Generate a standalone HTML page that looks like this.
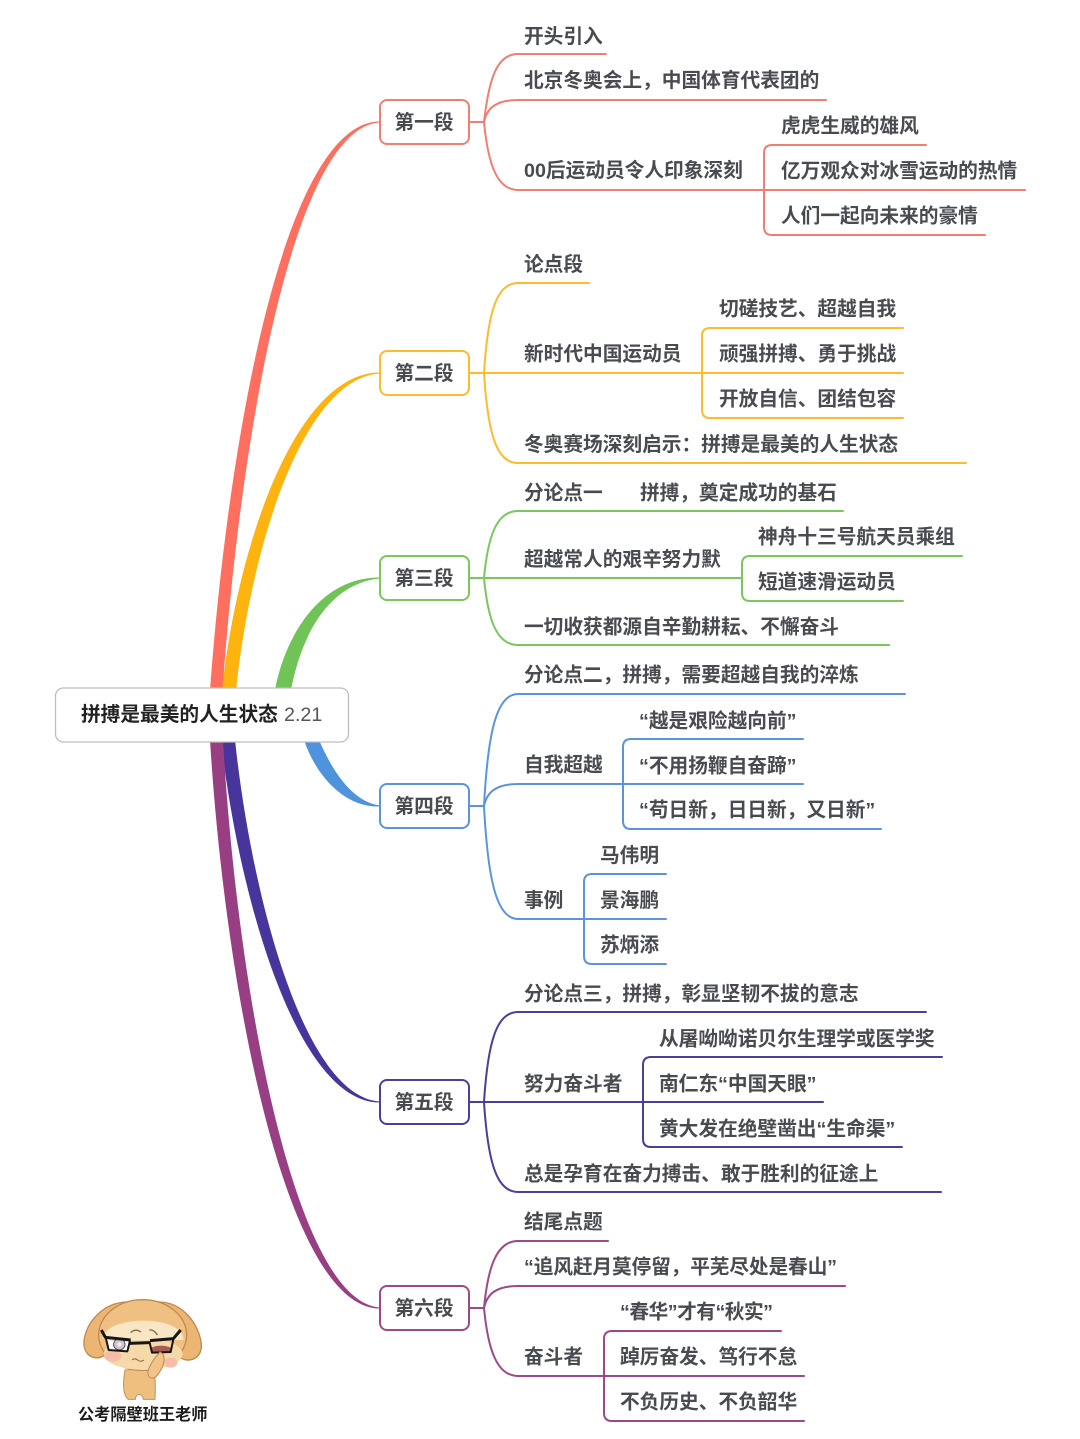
<!DOCTYPE html>
<html lang="zh-CN">
<head>
<meta charset="utf-8">
<title>拼搏是最美的人生状态</title>
<style>
html,body{margin:0;padding:0;background:#fff;width:1080px;height:1439px;overflow:hidden}
svg{display:block;filter:blur(.35px)}
text{font-family:"Liberation Sans","Noto Sans CJK SC",sans-serif;font-size:19.7px;font-weight:700;fill:#484b50}
.l{fill:none;stroke-width:2;stroke-linecap:round}
.n{fill:#fff;stroke-width:2}
.c{text-anchor:middle}
</style>
</head>
<body>
<svg width="1080" height="1439" viewBox="0 0 1080 1439" xmlns="http://www.w3.org/2000/svg">
<rect width="1080" height="1439" fill="#fff"/>

<!-- main tapered branches -->
<path fill="#ff6f5f" d="M210,690 C230,420 288,121 380,121.500 L380,122.500 C296,127 242,420 222.500,690 Z"/>
<path fill="#ffb30f" d="M222,690 C238,540 298,372 380,372.500 L380,373.500 C305,378 252,540 236,690 Z"/>
<path fill="#70c356" d="M275,690 C284,640 318,577 380,577.500 L380,578.500 C325,584 300,642 291,690 Z"/>
<path fill="#4e93dc" d="M304,740 C316,776 345,808 380,806.500 L380,805.500 C352,802 332,770 319,740 Z"/>
<path fill="#47359c" d="M221,740 C239,900 298,1103 380,1102.500 L380,1101.500 C305,1097 252,900 235,740 Z"/>
<path fill="#983f84" d="M210,740 C226,1000 288,1309 380,1308.500 L380,1307.500 C296,1302 238,1000 223,740 Z"/>

<!-- root -->
<rect x="55.500" y="688" width="293" height="54" rx="8" fill="#fff" stroke="#bdbdc2" stroke-width="1.300"/>
<text x="81" y="721" style="fill:#222">拼搏是最美的人生状态</text>
<text x="284" y="721" style="fill:#555;font-weight:400">2.21</text>

<!-- section 1 -->
<g stroke="#ee7f72" class="l">
<path d="M469,122 L484,122"/>
<path d="M484,122 C489,78 497,54 518,54 L606,54"/>
<path d="M484,122 C487,108 496,100 518,100 L826,100"/>
<path d="M484,122 C488,164 497,190 518,190 L764,190"/>
<path d="M764,190 L1025,190"/>
<path d="M764,227 L764,153 Q764,145 772,145 L926,145"/>
<path d="M764,227 Q764,235 772,235 L985,235"/>
</g>
<rect class="n" stroke="#ee7f72" x="380" y="100" width="89" height="44" rx="7"/>
<text x="424" y="129" class="c">第一段</text>
<text x="524" y="43">开头引入</text>
<text x="524" y="87">北京冬奥会上，中国体育代表团的</text>
<text x="524" y="177">00后运动员令人印象深刻</text>
<text x="781" y="132.500">虎虎生威的雄风</text>
<text x="781" y="177.500">亿万观众对冰雪运动的热情</text>
<text x="781" y="222.500">人们一起向未来的豪情</text>

<!-- section 2 -->
<g stroke="#fdbb30" class="l">
<path d="M469,373 L702,373 L903,373"/>
<path d="M484,373 C488,310 497,283 518,283 L589,283"/>
<path d="M484,373 C488,436 497,463 518,463 L966,463"/>
<path d="M702,410 L702,336 Q702,328 710,328 L903,328"/>
<path d="M702,410 Q702,418 710,418 L903,418"/>
</g>
<rect class="n" stroke="#fdbb30" x="380" y="351" width="89" height="44" rx="7"/>
<text x="424" y="380" class="c">第二段</text>
<text x="524" y="271">论点段</text>
<text x="524" y="360.500">新时代中国运动员</text>
<text x="719" y="315.500">切磋技艺、超越自我</text>
<text x="719" y="360.500">顽强拼搏、勇于挑战</text>
<text x="719" y="405.500">开放自信、团结包容</text>
<text x="524" y="451">冬奥赛场深刻启示：拼搏是最美的人生状态</text>

<!-- section 3 -->
<g stroke="#7ac65f" class="l">
<path d="M469,578 L742,578"/>
<path d="M484,578 C488,535 497,511 518,511 L843,511"/>
<path d="M484,578 C488,621 497,645 518,645 L889,645"/>
<path d="M742,593 L742,564 Q742,556 750,556 L962,556"/>
<path d="M742,593 Q742,601 750,601 L903,601"/>
</g>
<rect class="n" stroke="#7ac65f" x="380" y="556" width="89" height="44" rx="7"/>
<text x="424" y="585" class="c">第三段</text>
<text x="524" y="499.500">分论点一</text>
<text x="640" y="499.500">拼搏，奠定成功的基石</text>
<text x="524" y="566">超越常人的艰辛努力默</text>
<text x="758" y="543.500">神舟十三号航天员乘组</text>
<text x="758" y="588.500">短道速滑运动员</text>
<text x="524" y="633.500">一切收获都源自辛勤耕耘、不懈奋斗</text>

<!-- section 4 -->
<g stroke="#5b95d8" class="l">
<path d="M469,806 L484,806"/>
<path d="M484,806 C488,730 497,694 518,694 L905,694"/>
<path d="M484,806 C487,792 496,784 518,784 L803,784"/>
<path d="M484,806 C488,882 497,919 518,919 L666,919"/>
<path d="M623,821 L623,747 Q623,739 631,739 L803,739"/>
<path d="M623,821 Q623,829 631,829 L881,829"/>
<path d="M584,956 L584,882 Q584,874 592,874 L666,874"/>
<path d="M584,956 Q584,964 592,964 L666,964"/>
</g>
<rect class="n" stroke="#5b95d8" x="380" y="784" width="89" height="44" rx="7"/>
<text x="424" y="813" class="c">第四段</text>
<text x="524" y="681.500">分论点二，拼搏，需要超越自我的淬炼</text>
<text x="524" y="771.500">自我超越</text>
<text x="639" y="727.500">“越是艰险越向前”</text>
<text x="639" y="772.500">“不用扬鞭自奋蹄”</text>
<text x="639" y="816.500">“苟日新，日日新，又日新”</text>
<text x="524" y="907">事例</text>
<text x="600" y="862">马伟明</text>
<text x="600" y="907">景海鹏</text>
<text x="600" y="951.500">苏炳添</text>

<!-- section 5 -->
<g stroke="#4c3f97" class="l">
<path d="M469,1102 L823,1102"/>
<path d="M484,1102 C488,1040 497,1012 518,1012 L926,1012"/>
<path d="M484,1102 C488,1164 497,1192 518,1192 L941,1192"/>
<path d="M643,1139 L643,1065 Q643,1057 651,1057 L942,1057"/>
<path d="M643,1139 Q643,1147 651,1147 L902,1147"/>
</g>
<rect class="n" stroke="#4c3f97" x="380" y="1080" width="89" height="44" rx="7"/>
<text x="424" y="1109" class="c">第五段</text>
<text x="524" y="1000.500">分论点三，拼搏，彰显坚韧不拔的意志</text>
<text x="524" y="1090.500">努力奋斗者</text>
<text x="659" y="1045.500">从屠呦呦诺贝尔生理学或医学奖</text>
<text x="659" y="1090.500">南仁东“中国天眼”</text>
<text x="659" y="1135.500">黄大发在绝壁凿出“生命渠”</text>
<text x="524" y="1180.500">总是孕育在奋力搏击、敢于胜利的征途上</text>

<!-- section 6 -->
<g stroke="#9b4a87" class="l">
<path d="M469,1308 L484,1308"/>
<path d="M484,1308 C488,1266 497,1241 518,1241 L608,1241"/>
<path d="M484,1308 C487,1294 496,1286 518,1286 L845,1286"/>
<path d="M484,1308 C488,1350 497,1376 518,1376 L804,1376"/>
<path d="M604,1413 L604,1339 Q604,1331 612,1331 L781,1331"/>
<path d="M604,1413 Q604,1421 612,1421 L804,1421"/>
</g>
<rect class="n" stroke="#9b4a87" x="380" y="1286" width="89" height="44" rx="7"/>
<text x="424" y="1315" class="c">第六段</text>
<text x="524" y="1228.500">结尾点题</text>
<text x="524" y="1273.500" textLength="313">“追风赶月莫停留，平芜尽处是春山”</text>
<text x="524" y="1363.500">奋斗者</text>
<text x="620" y="1318.500" textLength="153">“春华”才有“秋实”</text>
<text x="620" y="1363.500">踔厉奋发、笃行不怠</text>
<text x="620" y="1408.500">不负历史、不负韶华</text>

<!-- mascot -->
<g transform="translate(60,1280) scale(.3333)">
<path d="M195,270 C188,310 188,345 205,358 L226,358 C228,338 246,338 250,358 L285,358 C287,320 287,290 280,265 Z" fill="#efbf80" stroke="#c0925a" stroke-width="3"/>
<path d="M200,66 C130,68 80,125 72,182 C68,222 100,245 130,228 C150,205 160,130 200,66 Z" fill="#ecb573" stroke="#bd8a50" stroke-width="4"/>
<path d="M300,66 C370,68 418,135 424,192 C426,232 395,250 362,234 C345,205 340,130 300,66 Z" fill="#ecb573" stroke="#bd8a50" stroke-width="4"/>
<ellipse cx="248" cy="165" rx="132" ry="106" fill="#f0c083" stroke="#bd8a50" stroke-width="4"/>
<path d="M128,175 C135,140 190,122 250,122 C310,122 365,140 370,175 Z" fill="#f9e6c4"/>
<ellipse cx="250" cy="222" rx="118" ry="48" fill="#f6d9a9"/>
<path d="M135,172 L370,172 L370,180 L135,180 Z" fill="#f9e6c4"/>
<ellipse cx="158" cy="228" rx="26" ry="17" fill="#f6bca8"/>
<ellipse cx="332" cy="248" rx="20" ry="15" fill="#f6bca8"/>
<path d="M212,158 Q226,144 243,156 M268,150 Q282,148 292,165" fill="none" stroke="#8a6a40" stroke-width="4"/>
<path d="M140,180 L205,184 L202,212 L146,208 Z" fill="#fff"/>
<circle cx="178" cy="193" r="17" fill="#cfc5d2" stroke="#5a4a55" stroke-width="3"/>
<circle cx="178" cy="193" r="6" fill="#f2eef2"/>
<path d="M270,205 Q300,190 332,203 L330,216 L278,217 Z" fill="#a95b52"/>
<path d="M124,150 L136,172 L212,180 M270,182 L340,176 L362,150 M208,190 L268,188" fill="none" stroke="#161616" stroke-width="9" stroke-linejoin="round"/>
<path d="M137,172 L146,210 L202,214 L210,182 M268,184 L276,218 L332,216 L340,178" fill="none" stroke="#161616" stroke-width="6" stroke-linejoin="round"/>
<path d="M216,240 Q225,232 235,242 Q245,246 252,240" fill="none" stroke="#8a6a40" stroke-width="3"/>
<path d="M300,216 C322,226 312,262 290,288 C278,302 258,292 265,270 C272,250 285,232 300,216 Z" fill="#f1c48a" stroke="#bd8a50" stroke-width="3"/>
</g>
<text x="78" y="1420" style="font-size:16.200px;fill:#1c1c1c">公考隔壁班王老师</text>
</svg>
</body>
</html>
